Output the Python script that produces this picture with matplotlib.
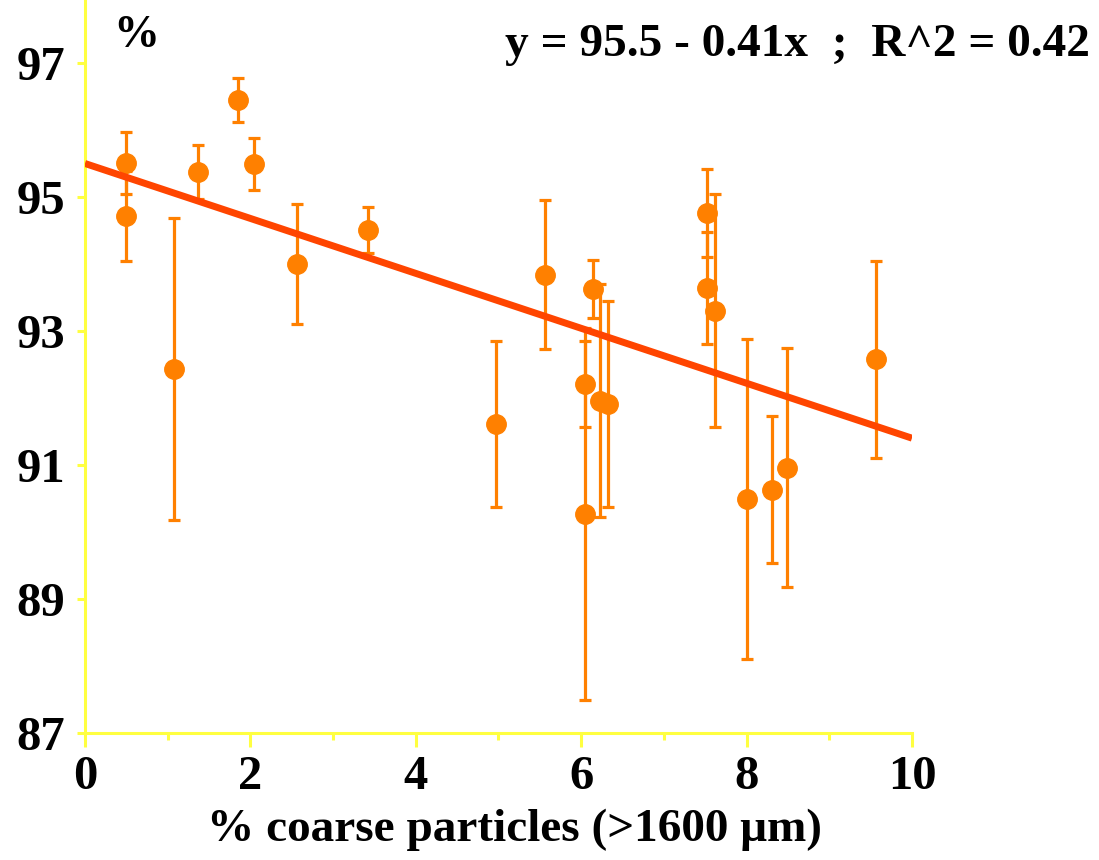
import matplotlib
matplotlib.use("Agg")
import matplotlib.pyplot as plt
import numpy as np
from matplotlib.ticker import MultipleLocator

# % coarse particles vs. measured value (%), with error bars
coarse_pct = [0.50, 0.50, 1.08, 1.37, 1.85, 2.04, 2.56, 3.42, 4.97, 5.56,
              6.05, 6.05, 6.14, 6.23, 6.32, 7.52, 7.52, 7.62, 8.00, 8.31,
              8.49, 9.56]
value_pct = [95.51, 94.72, 92.43, 95.37, 96.45, 95.49, 94.00, 94.51, 91.61, 93.84,
             92.21, 90.27, 93.63, 91.96, 91.91, 94.76, 93.64, 93.30, 90.49, 90.63,
             90.96, 92.58]
err_pct = [0.46, 0.67, 2.25, 0.40, 0.33, 0.39, 0.90, 0.34, 1.24, 1.11,
           0.64, 2.78, 0.43, 1.74, 1.53, 0.66, 0.84, 1.74, 2.39, 1.10,
           1.78, 1.47]

intercept = 95.5
slope = -0.41
r2 = 0.42

x_ticks = [0, 2, 4, 6, 8, 10]
y_ticks = [87, 89, 91, 93, 95, 97]

axis_yellow = "#ffff40"
dot_orange = "#ff8000"
fit_red = "#ff4500"

plt.rcParams['font.family'] = ['Liberation Serif', 'DejaVu Serif']
plt.rcParams['font.weight'] = 'bold'

fig = plt.figure(figsize=(10.99, 8.6), dpi=100)
ax = fig.add_axes([0.0773, 0.1477, 0.7525, 0.8523])

ax.errorbar(coarse_pct, value_pct, yerr=err_pct, fmt='o', color=dot_orange,
            ecolor=dot_orange, markersize=14, elinewidth=2.3, capsize=4.5,
            capthick=2.3, zorder=3)

xfit = np.array([0, 10])
ax.plot(xfit, intercept + slope * xfit, color=fit_red, lw=5, zorder=4,
        solid_capstyle='butt')

ax.set_xlim(0, 10)
ax.set_ylim(87, 97.94)
ax.set_xticks(x_ticks)
ax.set_yticks(y_ticks)
ax.xaxis.set_minor_locator(MultipleLocator(1))

for side in ['top', 'right']:
    ax.spines[side].set_visible(False)
for side in ['left', 'bottom']:
    ax.spines[side].set_color(axis_yellow)
    ax.spines[side].set_linewidth(2.2)

ax.tick_params(axis='both', which='both', color=axis_yellow, width=2.2,
               labelsize=35, direction='out')
ax.tick_params(axis='x', which='major', length=10, pad=6)
ax.tick_params(axis='x', which='minor', length=5)
ax.tick_params(axis='y', which='major', length=6, pad=8)
for lab in ax.get_xticklabels() + ax.get_yticklabels():
    lab.set_fontweight('bold')

ax.set_xlabel("% coarse particles (>1600 μm)", fontsize=34, fontweight='bold')
ax.xaxis.set_label_coords(0.52, -0.103)

fig.text(0.103, 0.958, "%", fontsize=33, fontweight='bold', ha='left', va='center')
fig.text(0.992, 0.948, f"y = {intercept} - {abs(slope)}x  ;  R^2 = {r2}",
         fontsize=34, fontweight='bold', ha='right', va='center')

fig.savefig("out.png", dpi=100)
